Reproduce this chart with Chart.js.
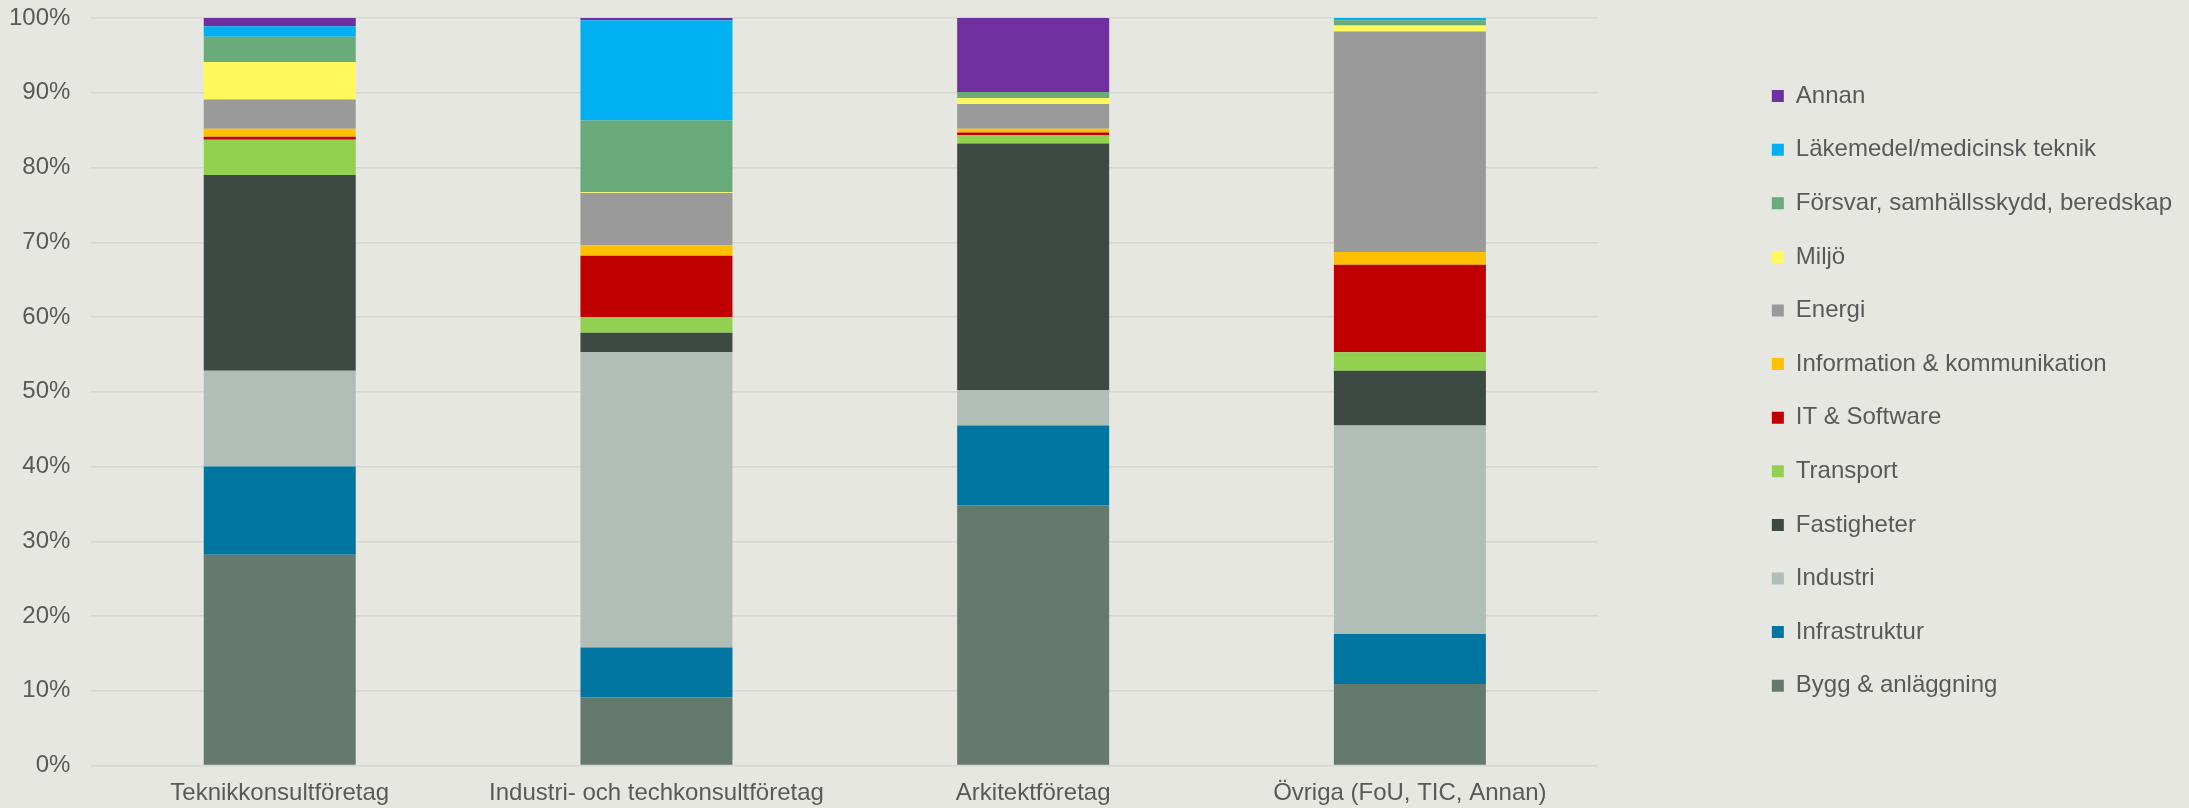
<!DOCTYPE html>
<html>
<head>
<meta charset="utf-8">
<script src="https://cdn.jsdelivr.net/npm/chart.js@4"></script>
<style>
  html, body { margin: 0; padding: 0; background: #E7E7E2; }
  #wrap { width: 2189px; height: 808px; }
</style>
</head>
<body>
<div id="wrap"><canvas id="c-branch"></canvas></div>
<script>
// === DATA (andel i %) ===
const categories = ['Teknikkonsultföretag', 'Industri- och techkonsultföretag', 'Arkitektföretag', 'Övriga (FoU, TIC, Annan)'];
const yTicks = [0, 10, 20, 30, 40, 50, 60, 70, 80, 90, 100];

const bygg          = [28.2,  9.1, 34.8, 10.9];
const infrastruktur = [11.8,  6.7, 10.7,  6.7];
const industri      = [12.8, 39.5,  4.7, 27.9];
const fastigheter   = [26.2,  2.6, 33.0,  7.3];
const transport     = [ 4.7,  2.1,  1.1,  2.5];
const itSoftware    = [ 0.4,  8.2,  0.4, 11.7];
const infoKomm      = [ 1.1,  1.4,  0.5,  1.7];
const energi        = [ 3.9,  7.0,  3.3, 29.5];
const miljo         = [ 5.0,  0.1,  0.8,  0.8];
const forsvar       = [ 3.4,  9.6,  0.8,  0.7];
const lakemedel     = [ 1.4, 13.4,  0.0,  0.3];
const annan         = [ 1.1,  0.3,  9.9,  0.0];

// bottom -> top
const seriesNames = ['Bygg & anläggning', 'Infrastruktur', 'Industri', 'Fastigheter', 'Transport',
  'IT & Software', 'Information & kommunikation', 'Energi', 'Miljö',
  'Försvar, samhällsskydd, beredskap', 'Läkemedel/medicinsk teknik', 'Annan'];
const seriesData = [bygg, infrastruktur, industri, fastigheter, transport, itSoftware,
  infoKomm, energi, miljo, forsvar, lakemedel, annan];
const seriesColors = ['#647A6F', '#0075A0', '#B0BEB7', '#3C4A43', '#92D050', '#C00000',
  '#FFC000', '#9A9A9A', '#FFF95E', '#6AAB7B', '#00B0F0', '#7030A0'];

// === CHART ===
const TEXT = '#595959';
const FONT = 'Liberation Sans, Arial, sans-serif';
const GAP = 144; // space between plot and legend

// widen the legend box, but draw its items at the natural spot
const legendGap = {
    id: 'legendGap',
    beforeInit(chart) {
        const fit = chart.legend.fit;
        chart.legend.fit = function () { fit.call(this); this.width += GAP; };
    },
    afterLayout(chart) { chart.legend.left += GAP; }
};

const datasets = seriesNames.map((name, i) => ({
    label: name,
    data: seriesData[i],
    backgroundColor: seriesColors[i],
    borderWidth: 0,
    barPercentage: 0.4035,
    categoryPercentage: 1
}));

new Chart(document.getElementById('c-branch'), {
    type: 'bar',
    data: { labels: categories, datasets },
    plugins: [legendGap],
    options: {
        responsive: true,
        maintainAspectRatio: false,
        animation: false,
        layout: { padding: { left: 9, right: 7, top: 18, bottom: 0 } },
        plugins: {
            tooltip: { enabled: false },
            legend: {
                position: 'right',
                align: 'start',
                reverse: true,
                title: { display: true, text: '', font: { size: 10 }, padding: { top: 24.5, bottom: 0 } },
                labels: {
                    color: TEXT,
                    font: { family: FONT, size: 24 },
                    boxWidth: 12, boxHeight: 12, padding: 29.6
                }
            }
        },
        scales: {
            x: {
                stacked: true,
                // invisible tick marks give the label offset
                grid: { display: true, drawOnChartArea: false, drawTicks: true, tickLength: 13.6, tickColor: 'rgba(0,0,0,0)' },
                border: { display: false },
                ticks: { color: TEXT, font: { family: FONT, size: 24 }, padding: 0, maxRotation: 0 }
            },
            y: {
                stacked: true,
                min: 0, max: 100,
                afterBuildTicks: s => { s.ticks = yTicks.map(v => ({ value: v })); },
                grid: { color: '#D6D6D3', lineWidth: 1.5, drawTicks: true, tickLength: 21, tickColor: 'rgba(0,0,0,0)' },
                border: { display: false },
                ticks: { color: TEXT, font: { family: FONT, size: 24 }, padding: 0, callback: v => v + '%' }
            }
        }
    }
});
</script>
</body>
</html>
